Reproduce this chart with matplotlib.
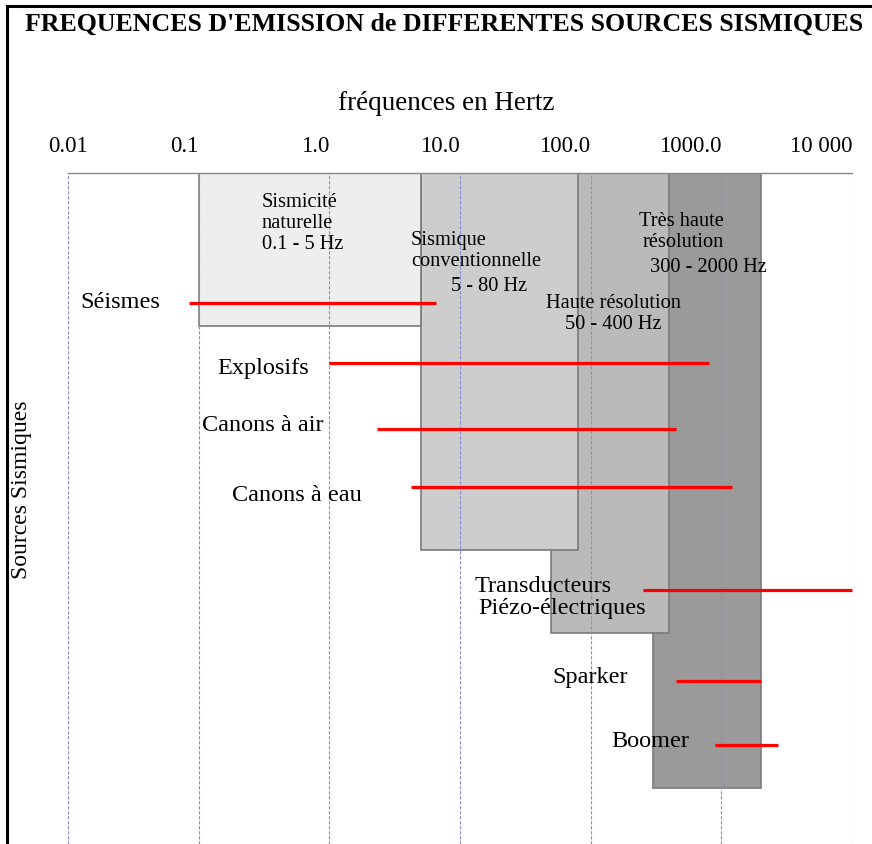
import matplotlib
matplotlib.use("Agg")
import matplotlib.pyplot as plt
from matplotlib.lines import Line2D
from matplotlib.ticker import NullLocator

plt.rcParams["font.family"] = ["Liberation Serif", "DejaVu Serif"]

# frequency axis (Hz)
decades = [0.01, 0.1, 1, 10, 100, 1000, 10000]
decade_labels = ["0.01", "0.1", "1.0", "10.0", "100.0", "1000.0", "10 000"]

# resolution bands (Hz)
band_names = ["Sismicité naturelle", "Sismique conventionnelle",
              "Haute résolution", "Très haute résolution"]
band_low = [0.1, 5, 50, 300]
band_high = [5, 80, 400, 2000]

# seismic sources (Hz)
source_names = ["Séismes", "Explosifs", "Canons à air", "Canons à eau",
                "Transducteurs Piézo-électriques", "Sparker", "Boomer"]
source_low = [0.085, 1.0, 2.3, 4.2, 250, 450, 900]
source_high = [6.5, 800, 450, 1200, 10000, 2000, 2700]

# vertical layout, in rows measured from the top of the figure
TOP = 174
BOTTOM = 845
band_bottom = [327, 551, 634, 789]
band_color = ["#eeeeee", "#cdcdcd", "#bababa", "#9a9a9a"]
source_row = [304, 364, 430, 488, 591, 682, 746]

fig = plt.figure(figsize=(8.72, 8.45), dpi=100)
ax = fig.add_axes([68 / 872, 0, 784 / 872, (BOTTOM - TOP) / 845])
ax.set_xscale("log")
ax.set_xlim(decades[0], decades[-1])
ax.set_ylim(BOTTOM, TOP)

# bands, back to front
for i in [3, 2, 1, 0]:
    x0, x1 = band_low[i], band_high[i]
    ax.fill([x0, x1, x1, x0], [TOP, TOP, band_bottom[i], band_bottom[i]],
            facecolor=band_color[i], edgecolor="#7a7a7a", lw=1.2, zorder=1)

# dashed decade lines
for d in decades:
    ax.axvline(d, color="#8c8cd2", lw=0.8, ls=(0, (3, 1.5)), zorder=2)

# source ranges
for lo, hi, y in zip(source_low, source_high, source_row):
    ax.plot([lo, hi], [y, y], color="#ff0000", lw=2.3,
            solid_capstyle="butt", zorder=3, clip_on=False)

# axis decoration
ax.xaxis.tick_top()
ax.set_xticks(decades)
ax.set_xticklabels(decade_labels, fontsize=16.5)
ax.xaxis.set_minor_locator(NullLocator())
ax.tick_params(axis="x", length=0, pad=12)
for i, lab in enumerate(ax.get_xticklabels()):
    lab.set_horizontalalignment("center" if i == 0 else "right")
ax.set_yticks([])
for side in ["left", "right", "bottom"]:
    ax.spines[side].set_visible(False)
ax.spines["top"].set_color("#888888")
ax.spines["top"].set_linewidth(1.0)

ax.set_xlabel("fréquences en Hertz", fontsize=19.5)
ax.xaxis.set_label_position("top")
ax.xaxis.label.set_verticalalignment("baseline")
ax.xaxis.set_label_coords((446 - 68) / 784, (845 - 110) / 671)

ax.set_ylabel("Sources Sismiques", fontsize=17)
ax.yaxis.label.set_verticalalignment("center")
ax.yaxis.set_label_coords((22 - 68) / 784, (845 - 490) / 671)

# band labels
bkw = dict(fontsize=14.7, va="baseline", zorder=4, linespacing=1.15)
ax.text(0.305, 249, "Sismicité\nnaturelle\n0.1 - 5 Hz", ha="left", **bkw)
ax.text(4.22, 266, "Sismique\nconventionnelle", ha="left", **bkw)
ax.text(8.5, 291, "5 - 80 Hz", ha="left", **bkw)
ax.text(150, 329, "Haute résolution\n50 - 400 Hz", ha="center",
        multialignment="center", **bkw)
ax.text(1045, 247, "Très haute\nrésolution", ha="right",
        multialignment="right", **bkw)
ax.text(284, 272, "300 - 2000 Hz", ha="left", **bkw)

# source labels
skw = dict(fontsize=17.5, va="baseline", ha="left", zorder=4)
ax.text(0.0124, 308, "Séismes", **skw)
ax.text(0.138, 374, "Explosifs", **skw)
ax.text(0.106, 431, "Canons à air", **skw)
ax.text(0.180, 501, "Canons à eau", **skw)
ax.text(13.0, 592, "Transducteurs", **skw)
ax.text(13.7, 614, "Piézo-électriques", **skw)
ax.text(50.6, 683, "Sparker", **skw)
ax.text(143, 747, "Boomer", **skw)

fig.text(25 / 872, 1 - 31 / 845,
         "FREQUENCES D'EMISSION de DIFFERENTES SOURCES SISMIQUES",
         fontsize=18.6, fontweight="bold", va="baseline", ha="left")

# outer frame (left and top edges)
fx, fy = 7 / 872, 1 - 7 / 845
fig.add_artist(Line2D([fx, fx], [0, fy], color="black", lw=2.2))
fig.add_artist(Line2D([fx, 1], [fy, fy], color="black", lw=2.2))

fig.savefig("out.png", dpi=100)
